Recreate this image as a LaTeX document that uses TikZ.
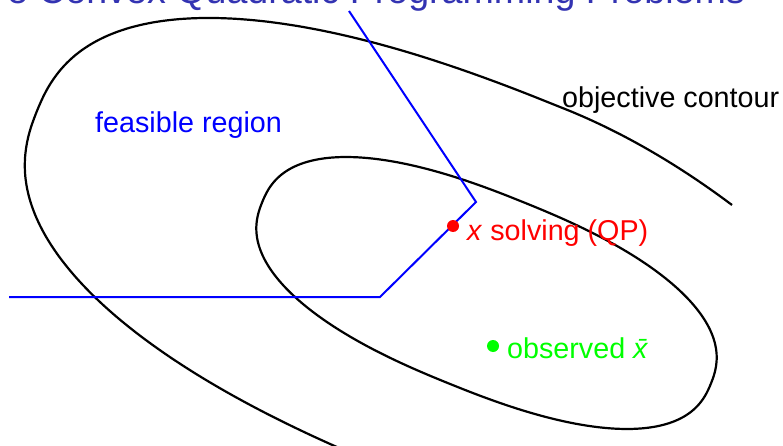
\documentclass[tikz,border=0pt]{standalone}
\usepackage{fontspec}
\setmainfont{Liberation Sans}
\definecolor{titleblue}{RGB}{51,51,178}
\definecolor{pureblue}{RGB}{0,0,255}
\definecolor{purered}{RGB}{255,0,0}
\definecolor{puregreen}{RGB}{0,255,0}
\begin{document}
\begin{tikzpicture}[x=1pt,y=-1pt,
  declare function={
    sx(\t)=cos(\t)*pow(abs(cos(\t))+0.00001,-0.1667);
    sy(\t)=sin(\t)*pow(abs(sin(\t))+0.00001,-0.1667);
  },
  lbl/.style={font=\fontsize{28.7}{34}\selectfont, inner sep=0pt, anchor=base west},
  ttl/.style={font=\fontsize{37.6}{45}\selectfont, inner sep=0pt, anchor=base east, text=titleblue},
  contour/.style={draw=black, line width=2.2pt, line join=round},
  feas/.style={draw=pureblue, line width=2pt, line join=miter},
  dot/.style={circle, inner sep=0pt, minimum size=12pt}]
\useasboundingbox (0,0) rectangle (783,446);

% title (cut off at the top)
\node[ttl] (title) at (745,4) {e Convex Quadratic Programming Problems};

% outer objective contour (open)
\coordinate (oend) at (732,205);
\draw[contour] plot[smooth, variable=\t, domain=95:270, samples=71]
  ({486.5 + 485*sx(\t)*cos(22) - 200*sy(\t)*sin(22)},
   {293 + 485*sx(\t)*sin(22) + 200*sy(\t)*cos(22)})
  .. controls (626,133) and (684,169) .. (oend);

% inner objective contour (closed)
\draw[contour] plot[smooth cycle, variable=\t, domain=1:358, samples=120]
  ({486.5 + 242*sx(\t)*cos(22) - 98*sy(\t)*sin(22)},
   {293 + 242*sx(\t)*sin(22) + 98*sy(\t)*cos(22)});

% feasible region boundary
\coordinate (b1) at (9,297);
\coordinate (b2) at (380,297);
\coordinate (b3) at (476,202);
\coordinate (b4) at (349,11);
\draw[feas] (b1) -- (b2) -- (b3) -- (b4);

% points
\node[dot, fill=purered] (xqp) at (453,226) {};
\node[dot, fill=puregreen] (xobs) at (493,346) {};

% labels
\node[lbl, text=pureblue] (feaslbl) at (95,133) {feasible region};
\node[lbl, text=black] (objlbl) at (562,108) {objective contour};
\node[lbl, text=purered] (qplbl) at (467,240) {\textit{x} solving (QP)};
\node[lbl, text=puregreen] (obslbl) at (507,358) {observed \textit{\=x}};
\end{tikzpicture}
\end{document}
